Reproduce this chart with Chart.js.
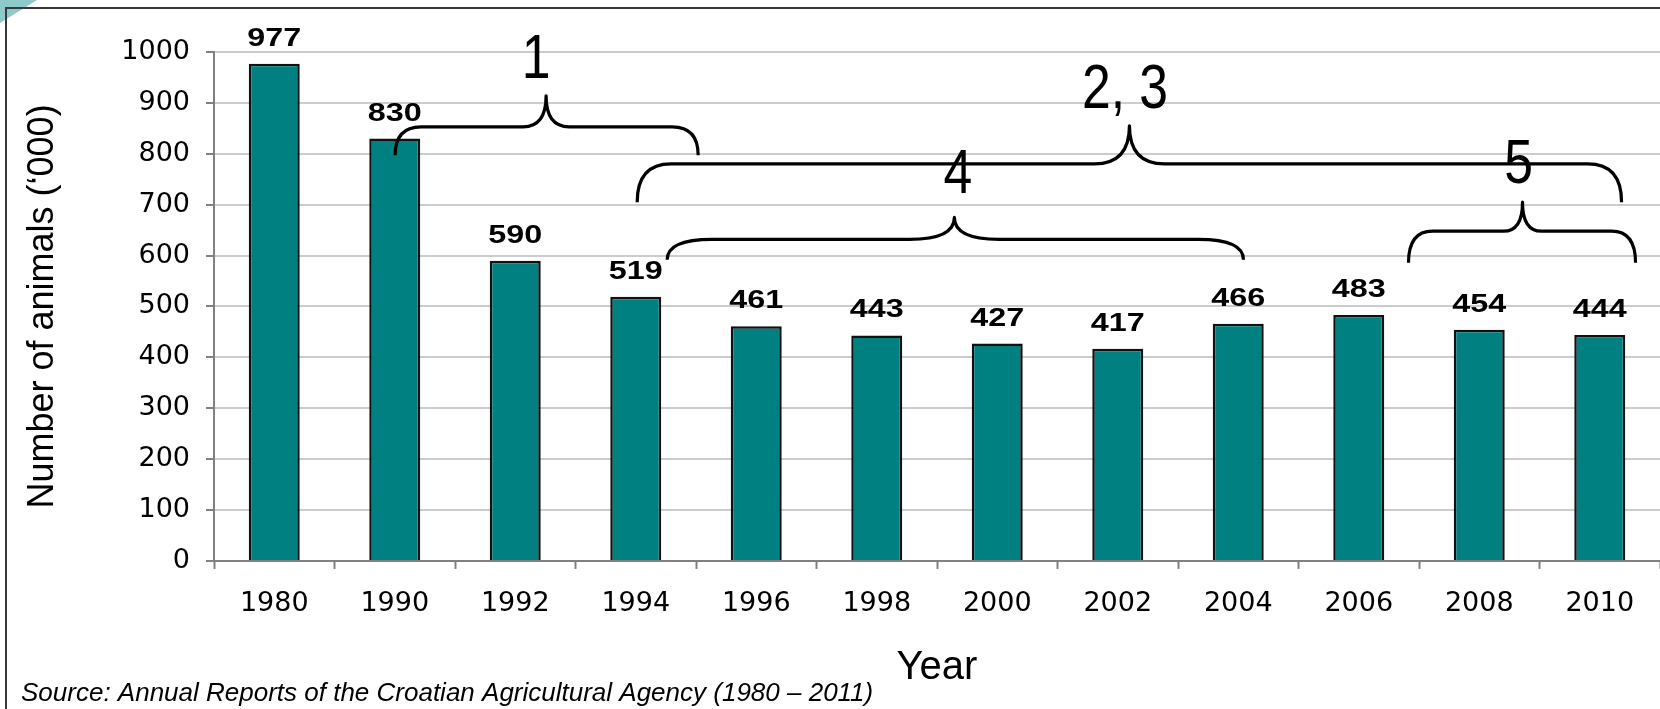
<!DOCTYPE html>
<html>
<head>
<meta charset="utf-8">
<script src="https://cdn.jsdelivr.net/npm/chart.js@4.4.1/dist/chart.umd.min.js"></script>
<style>
  html, body { margin: 0; padding: 0; background: #ffffff; }
  #wrap { width: 1660px; height: 709px; position: relative; }
</style>
</head>
<body>
<div id="wrap"><canvas id="c"></canvas></div>
<script>
// ---- data ----
const years = ['1980', '1990', '1992', '1994', '1996', '1998', '2000', '2002', '2004', '2006', '2008', '2010'];
const animals = [977, 830, 590, 519, 461, 443, 427, 417, 466, 483, 454, 444];
const yMin = 0;
const yMax = 1000;
const yStep = 100;
const yTitle = "Number of animals (\u2018000)";
const xTitle = 'Year';
const sourceText = 'Source: Annual Reports of the Croatian Agricultural Agency (1980 \u2013 2011)';

// brace annotations: spans in category-index units, heights in data units
const braceLabels = ['1', '2, 3', '4', '5'];
const braceFrom   = [1.003, 3.012, 3.261, 9.413];
const braceTo     = [3.518, 11.181, 8.043, 11.297];
const braceTip    = [2.256, 7.097, 5.644, 10.359];
const braceEndVal = [797, 705, 592, 586];
const braceBarVal = [853, 780, 632, 648];
const braceTipVal = [914, 855, 675, 705];
const braceLabelX = [2.173, 7.06, 5.673, 10.326];
const braceLabelY = [949, 890, 722, 742];

const ARIAL = "'Liberation Sans', Arial, sans-serif";
const WIDE = "'DejaVu Sans', 'Liberation Sans', sans-serif";

const braceStyle = [
  { re: 26, rt: 23 },
  { re: 34, rt: 35 },
  { re: 45, rt: 45 },
  { re: 24, rt: 19 }
];

const framePlugin = {
  id: 'frame',
  beforeDraw(chart) {
    const ctx = chart.ctx;
    ctx.save();
    ctx.fillStyle = '#ffffff';
    ctx.fillRect(0, 0, chart.width, chart.height);
    ctx.fillStyle = '#8fcaca';
    ctx.beginPath();
    ctx.moveTo(0, 0);
    ctx.lineTo(37, 0);
    ctx.lineTo(0, 23);
    ctx.closePath();
    ctx.fill();
    ctx.strokeStyle = '#3a3a3a';
    ctx.lineWidth = 2;
    ctx.strokeRect(6, 8, chart.width + 20, chart.height + 20);
    ctx.restore();
  }
};

const labelPlugin = {
  id: 'barLabels',
  afterDatasetsDraw(chart) {
    const ctx = chart.ctx;
    const meta = chart.getDatasetMeta(0);
    ctx.save();
    ctx.fillStyle = '#000000';
    ctx.font = 'bold 26.5px ' + ARIAL;
    ctx.textAlign = 'center';
    ctx.textBaseline = 'alphabetic';
    meta.data.forEach((bar, i) => {
      ctx.save();
      ctx.translate(bar.x, bar.y - 18);
      ctx.scale(1.22, 1);
      ctx.fillText(String(animals[i]), 0, 0);
      ctx.restore();
    });
    ctx.restore();
  }
};

const bracePlugin = {
  id: 'braces',
  afterDatasetsDraw(chart) {
    const ctx = chart.ctx;
    const xs = chart.scales.x, ys = chart.scales.y;
    ctx.save();
    ctx.strokeStyle = '#000000';
    ctx.lineWidth = 3.2;
    ctx.lineCap = 'butt';
    ctx.lineJoin = 'round';
    for (let i = 0; i < braceLabels.length; i++) {
      const st = braceStyle[i];
      const x1 = xs.getPixelForValue(braceFrom[i]);
      const x2 = xs.getPixelForValue(braceTo[i]);
      const xt = xs.getPixelForValue(braceTip[i]);
      const ye = ys.getPixelForValue(braceEndVal[i]);
      const yb = ys.getPixelForValue(braceBarVal[i]);
      const yt = ys.getPixelForValue(braceTipVal[i]);
      ctx.beginPath();
      ctx.moveTo(x1, ye);
      ctx.quadraticCurveTo(x1, yb, x1 + st.re, yb);
      ctx.lineTo(xt - st.rt, yb);
      ctx.quadraticCurveTo(xt, yb, xt, yt);
      ctx.quadraticCurveTo(xt, yb, xt + st.rt, yb);
      ctx.lineTo(x2 - st.re, yb);
      ctx.quadraticCurveTo(x2, yb, x2, ye);
      ctx.stroke();
    }
    ctx.fillStyle = '#000000';
    ctx.font = '63px ' + ARIAL;
    ctx.textAlign = 'center';
    ctx.textBaseline = 'alphabetic';
    for (let i = 0; i < braceLabels.length; i++) {
      ctx.save();
      ctx.translate(xs.getPixelForValue(braceLabelX[i]), ys.getPixelForValue(braceLabelY[i]));
      ctx.scale(0.82, 1);
      ctx.fillText(braceLabels[i], 0, 0);
      ctx.restore();
    }
    ctx.restore();
  }
};

new Chart(document.getElementById('c'), {
  type: 'bar',
  data: {
    labels: years,
    datasets: [{
      data: animals,
      backgroundColor: '#008080',
      borderColor: '#111111',
      borderWidth: 2.5,
      categoryPercentage: 1.0,
      barPercentage: 0.423
    }]
  },
  options: {
    responsive: true,
    maintainAspectRatio: false,
    animation: false,
    devicePixelRatio: 1,
    layout: { padding: { top: 52, left: 21, right: 0, bottom: 0 } },
    plugins: {
      legend: { display: false },
      tooltip: { enabled: false },
      title: {
        display: true,
        text: sourceText,
        position: 'bottom',
        align: 'start',
        color: '#000000',
        font: { family: ARIAL, size: 26, style: 'italic', weight: 'normal', lineHeight: 1.2 },
        padding: { top: 9, bottom: 0 }
      }
    },
    scales: {
      x: {
        type: 'category',
        offset: true,
        grid: {
          display: true,
          drawOnChartArea: false,
          drawTicks: true,
          tickLength: 8,
          tickColor: '#808080',
          tickWidth: 2,
          offset: true
        },
        border: { display: true, color: '#808080', width: 2 },
        ticks: {
          color: '#000000',
          font: { family: WIDE, size: 27 },
          padding: 19,
          maxRotation: 0,
          autoSkip: false
        },
        title: {
          display: true,
          text: xTitle,
          color: '#000000',
          font: { family: ARIAL, size: 40, lineHeight: 0.05 },
          padding: { top: 27.5, bottom: 0 }
        }
      },
      y: {
        min: yMin,
        max: yMax,
        afterFit(scale) { scale.width = 193; },
        grid: {
          color: '#cccccc',
          lineWidth: 2,
          drawTicks: true,
          tickLength: 8,
          tickColor: '#808080',
          tickWidth: 2
        },
        border: { display: true, color: '#808080', width: 2 },
        ticks: {
          stepSize: yStep,
          color: '#000000',
          font: { family: WIDE, size: 27 },
          padding: 16,
          callback: (v) => String(v)
        },
        title: {
          display: true,
          text: yTitle,
          color: '#000000',
          font: { family: ARIAL, size: 36, lineHeight: 1.0 },
          padding: { top: 4, bottom: 0 }
        }
      }
    }
  },
  plugins: [framePlugin, labelPlugin, bracePlugin]
});
</script>
</body>
</html>
